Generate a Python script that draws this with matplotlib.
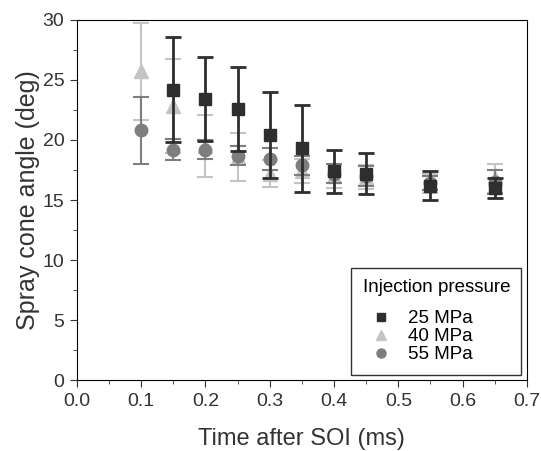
import matplotlib
matplotlib.use("Agg")
import matplotlib.pyplot as plt
from matplotlib.lines import Line2D
from matplotlib.ticker import MultipleLocator, FormatStrFormatter

plt.rcParams['font.family'] = ['Liberation Sans', 'DejaVu Sans']

# 25 MPa
t_25 = [0.15, 0.2, 0.25, 0.3, 0.35, 0.4, 0.45, 0.55, 0.65]
angle_25 = [24.2, 23.4, 22.6, 20.4, 19.3, 17.4, 17.2, 16.2, 16.0]
err_25 = [4.4, 3.5, 3.5, 3.6, 3.6, 1.8, 1.7, 1.2, 0.8]

# 40 MPa
t_40 = [0.1, 0.15, 0.2, 0.25, 0.3, 0.35, 0.4, 0.45, 0.55, 0.65]
angle_40 = [25.7, 22.8, 19.5, 18.6, 17.2, 17.4, 17.0, 16.9, 16.4, 16.8]
err_40 = [4.0, 3.9, 2.6, 2.0, 1.1, 1.0, 1.0, 1.0, 0.8, 1.2]

# 55 MPa
t_55 = [0.1, 0.15, 0.2, 0.25, 0.3, 0.35, 0.4, 0.45, 0.55, 0.65]
angle_55 = [20.8, 19.2, 19.2, 18.7, 18.4, 17.9, 17.2, 17.0, 16.4, 16.5]
err_55 = [2.8, 0.9, 0.8, 0.8, 0.9, 0.8, 0.8, 0.8, 0.6, 1.0]

labels = ['25 MPa', '40 MPa', '55 MPa']

fig = plt.figure(figsize=(5.41, 4.51), dpi=100)
ax = fig.add_axes([0.142, 0.157, 0.832, 0.799])

ax.errorbar(t_40, angle_40, yerr=err_40, fmt='^', color='#c4c4c4', ms=10,
            elinewidth=1.5, capsize=5.5, capthick=1.5, zorder=2)
ax.errorbar(t_55, angle_55, yerr=err_55, fmt='o', color='#7e7e7e', ms=9,
            elinewidth=1.5, capsize=5.5, capthick=1.5, zorder=3)
ax.errorbar(t_25, angle_25, yerr=err_25, fmt='s', color='#2e2e2e', ms=9,
            elinewidth=2, capsize=5.5, capthick=2, zorder=4)

ax.set_xlim(0, 0.7)
ax.set_ylim(0, 30)
ax.xaxis.set_major_locator(MultipleLocator(0.1))
ax.xaxis.set_minor_locator(MultipleLocator(0.05))
ax.yaxis.set_major_locator(MultipleLocator(5))
ax.yaxis.set_minor_locator(MultipleLocator(2.5))
ax.xaxis.set_major_formatter(FormatStrFormatter('%.1f'))
ax.tick_params(which='major', direction='out', length=5, labelsize=14,
               colors='#333333', pad=4)
ax.tick_params(which='minor', direction='out', length=3, colors='#333333')

ax.set_xlabel('Time after SOI (ms)', fontsize=17, color='#333333', labelpad=13)
ax.set_ylabel('Spray cone angle (deg)', fontsize=18, color='#333333', labelpad=2)

handles = [
    Line2D([], [], marker='s', ls='none', color='#2e2e2e', ms=6),
    Line2D([], [], marker='^', ls='none', color='#c4c4c4', ms=7),
    Line2D([], [], marker='o', ls='none', color='#7e7e7e', ms=6.5),
]
leg = ax.legend(handles, labels, title='Injection pressure',
                loc='lower right', fontsize=13.5, title_fontsize=13.5,
                fancybox=False, edgecolor='#333333', framealpha=1,
                alignment='left', handletextpad=0.4, handlelength=2.0,
                labelspacing=0.05, borderpad=0.6, borderaxespad=0.3)
leg.get_frame().set_linewidth(1)
# extra gap between the legend title and the entries
leg._legend_box.sep = 10

fig.savefig('out.png', dpi=100)
